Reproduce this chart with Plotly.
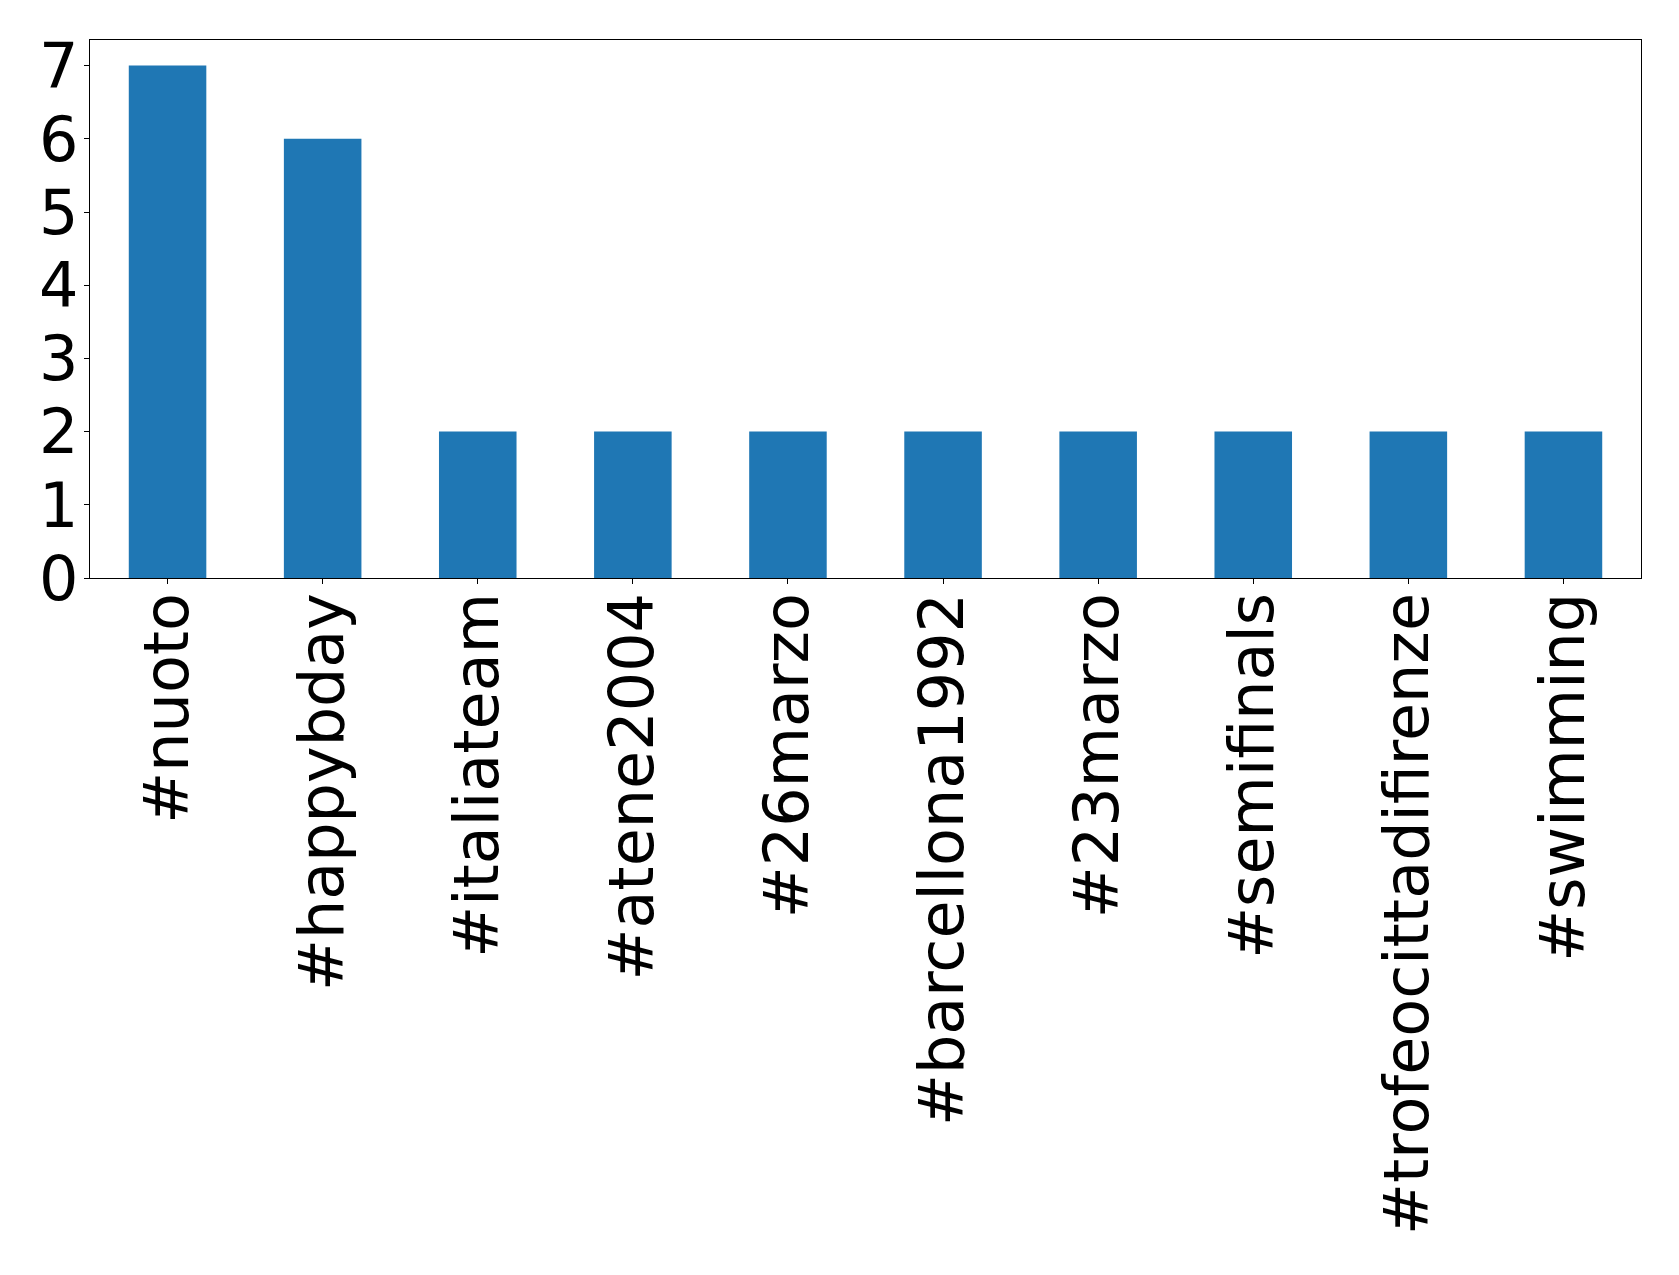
import plotly.graph_objects as go

categories = ["#nuoto", "#happybday", "#italiateam", "#atene2004", "#26marzo",
              "#barcellona1992", "#23marzo", "#semifinals", "#trofeocittadifirenze", "#swimming"]
counts = [7, 6, 2, 2, 2, 2, 2, 2, 2, 2]
y_ticks = [0, 1, 2, 3, 4, 5, 6, 7]

fig = go.Figure(go.Bar(x=categories, y=counts, width=0.5, marker=dict(color="#1f77b4", line=dict(width=0))))

font = dict(family="DejaVu Sans", size=62, color="black")
fig.update_layout(
    width=1671, height=1267,
    margin=dict(l=82, r=38, t=32, b=697, autoexpand=False),
    paper_bgcolor="white", plot_bgcolor="white",
    showlegend=False,
    font=font,
)
fig.update_xaxes(
    type="category", range=[-0.5, 9.5], tickangle=-90, tickfont=font,
    showline=True, linecolor="black", linewidth=1.3, mirror=True,
    ticks="outside", ticklen=5, tickwidth=1.3, tickcolor="black",
    showgrid=False, zeroline=False, automargin=False, ticklabelstandoff=-16,
)
fig.update_yaxes(
    range=[0, 7.35], tickvals=y_ticks, ticktext=[str(v) for v in y_ticks], tickfont=font,
    showline=True, linecolor="black", linewidth=1.3, mirror=True,
    ticks="outside", ticklen=5, tickwidth=1.3, tickcolor="black",
    showgrid=False, zeroline=False, automargin=False, ticklabelstandoff=-7,
)
fig.write_html("out.html")
